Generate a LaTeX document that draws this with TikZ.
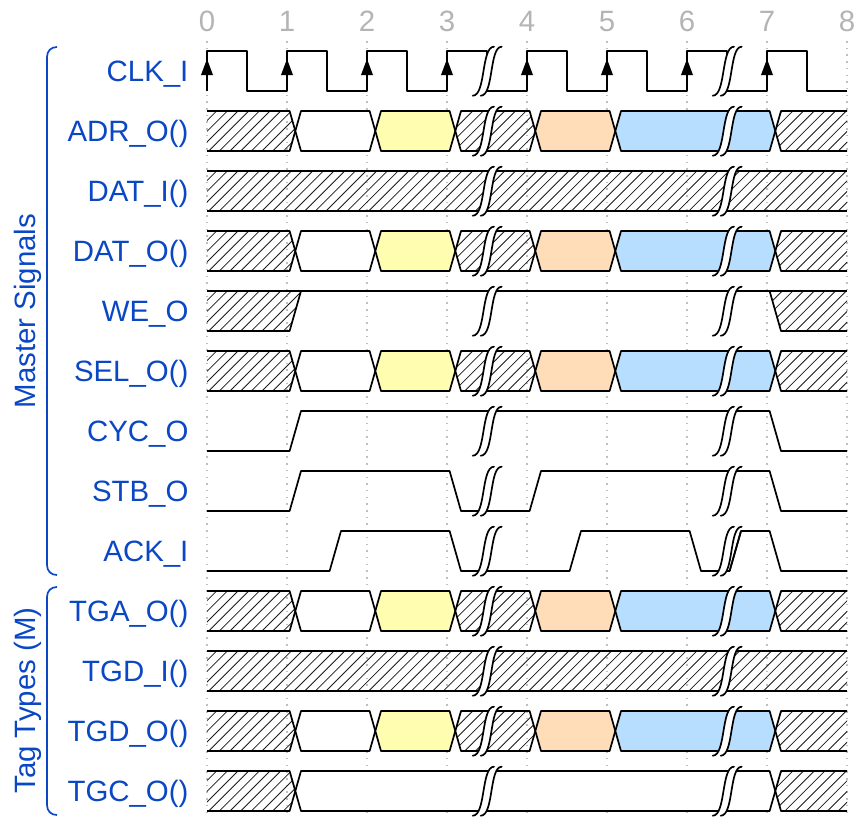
\documentclass[tikz,border=0pt]{standalone}
\usepackage{fontspec}
\setmainfont{Liberation Sans}
\definecolor{lblblue}{HTML}{0A47C4}
\definecolor{gridgray}{HTML}{B4B4B4}
\definecolor{segyellow}{HTML}{FFFDB0}
\definecolor{segorange}{HTML}{FFDDB8}
\definecolor{segblue}{HTML}{B8DEFF}
\tikzset{
  wave/.style={line width=1.7pt,black,line join=round},
  hatchline/.style={line width=0.8pt,black!90},
  gridline/.style={line width=1.5pt,gridgray!85,dash pattern=on 1.5pt off 5.2pt},
  siglabel/.style={anchor=base east,inner sep=0pt,text=lblblue,font=\fontsize{29.4}{31}\selectfont},
  ticklabel/.style={anchor=base,inner sep=0pt,text=gridgray,font=\fontsize{29.4}{31}\selectfont},
  grouplabel/.style={anchor=base,rotate=90,inner sep=0pt,text=lblblue,font=\fontsize{29.4}{31}\selectfont},
  bracket/.style={line width=1.7pt,lblblue},
}
% hatch lines, to be used inside a clip, in row-local coordinates
\newcommand{\hatchlines}{%
  \foreach \hk in {0,...,64}
    \draw[hatchline] ({164+\hk*10.67},42) -- ({164+\hk*10.67+44},-2);}
\newcommand{\hexpath}[2]{({#1+5.7},20)--({#1+11.4},0)--(#2,0)--({#2+5.7},20)--(#2,40)--({#1+11.4},40)--cycle}
\newcommand{\hexfill}[3]{\draw[wave,fill=#3] \hexpath{#1}{#2};}
\newcommand{\hexhatch}[2]{%
  \begin{scope}\clip \hexpath{#1}{#2};\hatchlines\end{scope}
  \draw[wave] \hexpath{#1}{#2};}
\newcommand{\breakmark}[1]{%
  \fill[white] (#1+265.7,44.7) .. controls (#1+279,44.7) and (#1+274,-4.3) .. (#1+287,-4.3)
     -- (#1+294.7,-4.3) .. controls (#1+281.7,-4.3) and (#1+286.7,44.7) .. (#1+273.7,44.7) -- cycle;
  \draw[wave,line cap=round] (#1+265.7,44.7) .. controls (#1+279,44.7) and (#1+274,-4.3) .. (#1+287,-4.3);
  \draw[wave,line cap=round] (#1+273.7,44.7) .. controls (#1+287,44.7) and (#1+282,-4.3) .. (#1+294.7,-4.3);}
\newcommand{\breaks}{\breakmark{207}\breakmark{447}}
\newcommand{\busrow}[1]{%
  \begin{scope}[shift={(0,#1)}]
    \begin{scope}\clip (207,0)--(289.6,0)--(295.3,20)--(289.6,40)--(207,40)--cycle;\hatchlines\end{scope}
    \draw[wave] (207,0)--(289.6,0)--(295.3,20)--(289.6,40)--(207,40);
    \hexfill{289.6}{369.6}{white}
    \hexfill{369.6}{449.6}{segyellow}
    \hexhatch{449.6}{529.6}
    \hexfill{529.6}{609.6}{segorange}
    \hexfill{609.6}{769.6}{segblue}
    \begin{scope}\clip (847,0)--(781,0)--(775.3,20)--(781,40)--(847,40)--cycle;\hatchlines\end{scope}
    \draw[wave] (847,0)--(781,0)--(775.3,20)--(781,40)--(847,40);
    \breaks
  \end{scope}}
\begin{document}
\begin{tikzpicture}[x=1pt,y=-1pt]
\useasboundingbox (0,0) rectangle (857,817);
% grid
\foreach \gk in {0,...,8}
  \draw[gridline] ({207+80*\gk},41) -- ({207+80*\gk},817);
\foreach \gk in {0,...,8}
  \node[ticklabel] (tick\gk) at ({207+80*\gk},31) {\gk};
% labels
\node[siglabel] (clk) at (188.6,81.7) {CLK\_I};
\node[siglabel] (adr) at (188.6,141.7) {ADR\_O()};
\node[siglabel] (dati) at (188.6,201.7) {DAT\_I()};
\node[siglabel] (dato) at (188.6,261.7) {DAT\_O()};
\node[siglabel] (we) at (188.6,321.7) {WE\_O};
\node[siglabel] (sel) at (188.6,381.7) {SEL\_O()};
\node[siglabel] (cyc) at (188.6,441.7) {CYC\_O};
\node[siglabel] (stb) at (188.6,501.7) {STB\_O};
\node[siglabel] (ack) at (188.6,561.7) {ACK\_I};
\node[siglabel] (tga) at (188.6,621.7) {TGA\_O()};
\node[siglabel] (tgdi) at (188.6,681.7) {TGD\_I()};
\node[siglabel] (tgdo) at (188.6,741.7) {TGD\_O()};
\node[siglabel] (tgc) at (188.6,801.7) {TGC\_O()};
\node[grouplabel] (master) at (35,311) {Master Signals};
\node[grouplabel] (tags) at (35,700.5) {Tag Types (M)};
% brackets
\draw[bracket] (57,47) .. controls (51,47) and (47,51) .. (47,57) -- (47,565) .. controls (47,571) and (51,575) .. (57,575);
\draw[bracket] (57,587) .. controls (51,587) and (47,591) .. (47,597) -- (47,805) .. controls (47,811) and (51,815) .. (57,815);
% clock
\begin{scope}[shift={(0,51)}]
  \draw[wave] (207,40)--(207,0)--(247,0)--(247,40)--(287,40)--(287,0)--(327,0)--(327,40)--(367,40)--(367,0)--(407,0)--(407,40)--(447,40)--(447,0)--(487,0)--(487,40)--(527,40)--(527,0)--(567,0)--(567,40)--(607,40)--(607,0)--(647,0)--(647,40)--(687,40)--(687,0)--(727,0)--(727,40)--(767,40)--(767,0)--(807,0)--(807,40)--(847,40);
  \foreach \cx in {207,287,367,447,527,607,687,767}
    \fill (\cx,8) -- (\cx+6,24) -- (\cx-6,24) -- cycle;
  \breaks
\end{scope}
% bus rows
\busrow{111}
\busrow{231}
\busrow{351}
\busrow{591}
\busrow{711}
% full-hatch rows
\foreach \ry in {171,651}{
  \begin{scope}[shift={(0,\ry)}]
    \begin{scope}\clip (207,0) rectangle (847,40);\hatchlines\end{scope}
    \draw[wave] (207,0)--(847,0) (207,40)--(847,40);
    \breaks
  \end{scope}}
% WE_O
\begin{scope}[shift={(0,291)}]
  \begin{scope}\clip (207,0)--(301,0)--(289.6,40)--(207,40)--cycle;\hatchlines\end{scope}
  \begin{scope}\clip (847,0)--(769.6,0)--(781,40)--(847,40)--cycle;\hatchlines\end{scope}
  \draw[wave] (207,40)--(289.6,40)--(301,0)--(207,0);
  \draw[wave] (301,0)--(769.6,0)--(781,40)--(847,40);
  \draw[wave] (769.6,0)--(847,0);
  \breaks
\end{scope}
% CYC_O
\begin{scope}[shift={(0,411)}]
  \draw[wave] (207,40)--(289.6,40)--(301,0)--(769.6,0)--(781,40)--(847,40);
  \breaks
\end{scope}
% STB_O
\begin{scope}[shift={(0,471)}]
  \draw[wave] (207,40)--(289.6,40)--(301,0)--(449.6,0)--(461,40)--(529.6,40)--(541,0)--(769.6,0)--(781,40)--(847,40);
  \breaks
\end{scope}
% ACK_I
\begin{scope}[shift={(0,531)}]
  \draw[wave] (207,40)--(329.6,40)--(341,0)--(449.6,0)--(461,40)--(569.6,40)--(581,0)--(689.6,0)--(701,40)--(729.6,40)--(741,0)--(769.6,0)--(781,40)--(847,40);
  \breaks
  \draw[wave] (729.6,40)--(741,0);
\end{scope}
% TGC_O
\begin{scope}[shift={(0,771)}]
  \begin{scope}\clip (207,0)--(289.6,0)--(295.3,20)--(289.6,40)--(207,40)--cycle;\hatchlines\end{scope}
  \draw[wave] (207,0)--(289.6,0)--(295.3,20)--(289.6,40)--(207,40);
  \hexfill{289.6}{769.6}{white}
  \begin{scope}\clip (847,0)--(781,0)--(775.3,20)--(781,40)--(847,40)--cycle;\hatchlines\end{scope}
  \draw[wave] (847,0)--(781,0)--(775.3,20)--(781,40)--(847,40);
  \breaks
\end{scope}
\end{tikzpicture}
\end{document}
